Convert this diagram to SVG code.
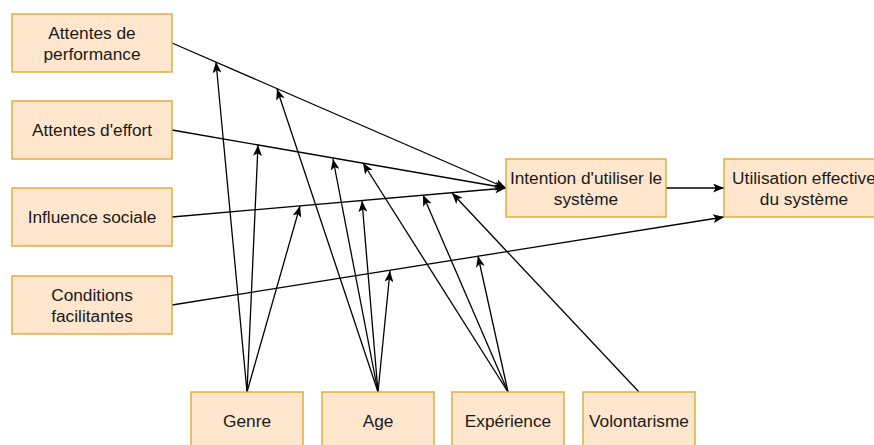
<svg xmlns="http://www.w3.org/2000/svg" width="874" height="445" viewBox="0 0 874 445">
<style>
.box{fill:#ffe6cc;stroke:#dfa935;stroke-width:1.4}
.lbl{font-family:"Liberation Sans",Arial,sans-serif;font-size:17.3px;fill:#1a1a1a;text-anchor:middle}
.e{stroke:#000;stroke-width:1.3;fill:none;marker-end:url(#arr)}
</style>
<defs>
<marker id="arr" viewBox="0 0 11 9" refX="11" refY="4.5" markerWidth="11" markerHeight="9" orient="auto" markerUnits="userSpaceOnUse">
<path d="M0,0 L11,4.5 L0,9 L2.8,4.5 z" fill="#000"/>
</marker>
</defs>
<rect width="874" height="445" fill="#fff"/>
<g id="edges">
<line class="e" x1="172" y1="43" x2="506" y2="188"/>
<line class="e" x1="172" y1="130" x2="506" y2="188"/>
<line class="e" x1="172" y1="217" x2="506" y2="188"/>
<line class="e" x1="172" y1="305" x2="724" y2="217"/>
<line class="e" x1="666" y1="188" x2="724" y2="188"/>
<line class="e" x1="247" y1="392" x2="216" y2="62"/>
<line class="e" x1="247" y1="392" x2="258" y2="145"/>
<line class="e" x1="247" y1="392" x2="300" y2="206"/>
<line class="e" x1="378" y1="392" x2="277" y2="89"/>
<line class="e" x1="378" y1="392" x2="333" y2="159"/>
<line class="e" x1="378" y1="392" x2="362" y2="201"/>
<line class="e" x1="378" y1="392" x2="390" y2="271"/>
<line class="e" x1="508" y1="392" x2="363" y2="163"/>
<line class="e" x1="508" y1="392" x2="423" y2="195"/>
<line class="e" x1="508" y1="392" x2="478" y2="256"/>
<line class="e" x1="639" y1="392" x2="452" y2="193"/>
</g>
<g id="perf"><rect class="box" x="12" y="14" width="160" height="58"/><text class="lbl" x="92" y="38.5">Attentes de</text><text class="lbl" x="92" y="59.5">performance</text></g>
<g id="effort"><rect class="box" x="12" y="101" width="160" height="58"/><text class="lbl" x="92" y="136">Attentes d'effort</text></g>
<g id="influence"><rect class="box" x="12" y="188" width="160" height="58"/><text class="lbl" x="92" y="223">Influence sociale</text></g>
<g id="conditions"><rect class="box" x="12" y="276" width="160" height="58"/><text class="lbl" x="92" y="300.5">Conditions</text><text class="lbl" x="92" y="321.5">facilitantes</text></g>
<g id="intention"><rect class="box" x="506" y="159" width="160" height="58"/><text class="lbl" x="586" y="183.5">Intention d'utiliser le</text><text class="lbl" x="586" y="204.5">système</text></g>
<g id="utilisation"><rect class="box" x="724" y="159" width="160" height="58"/><text class="lbl" x="804" y="183.5">Utilisation effective</text><text class="lbl" x="804" y="204.5">du système</text></g>
<g id="genre"><rect class="box" x="191" y="392" width="112" height="58"/><text class="lbl" x="247" y="427">Genre</text></g>
<g id="age"><rect class="box" x="322" y="392" width="112" height="58"/><text class="lbl" x="378" y="427">Age</text></g>
<g id="experience"><rect class="box" x="452" y="392" width="112" height="58"/><text class="lbl" x="508" y="427">Expérience</text></g>
<g id="volontarisme"><rect class="box" x="583" y="392" width="112" height="58"/><text class="lbl" x="639" y="427">Volontarisme</text></g>
</svg>
